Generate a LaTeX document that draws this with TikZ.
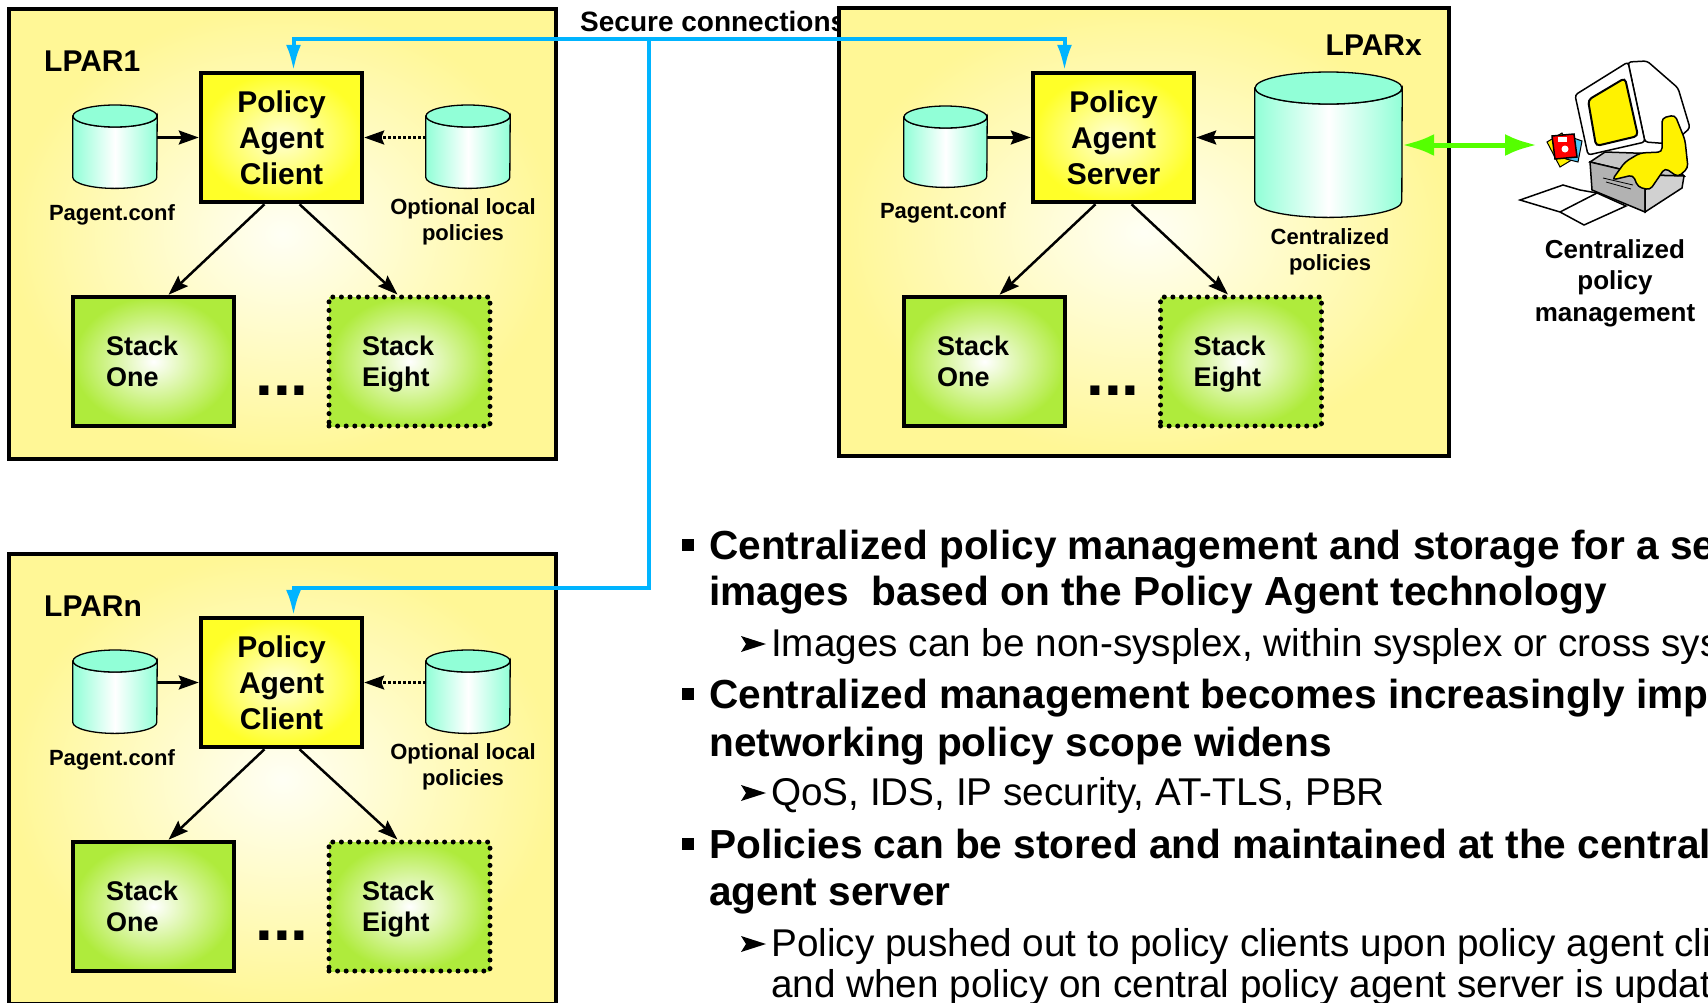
\documentclass[tikz,border=0pt]{standalone}
\usepackage{fontspec}
\setmainfont{Liberation Sans}
\usetikzlibrary{arrows.meta}

\definecolor{lparyellow}{RGB}{255,247,150}
\definecolor{agentyellow}{RGB}{255,255,40}
\definecolor{stackgreen}{RGB}{175,235,60}
\definecolor{mint}{RGB}{145,255,215}
\definecolor{secblue}{RGB}{0,180,255}
\definecolor{mgmtgreen}{RGB}{85,255,0}

% disk store: name, centre x, top y, width, height, half height of the lid
\newcommand{\dbdisk}[6]{%
  \pgfmathsetmacro\dbrx{#4/2}%
  \node[inner sep=0pt, minimum width=#4pt, minimum height=#5pt, anchor=north] (#1) at (#2,#3) {};
  \shadedraw[left color=mint, right color=mint, middle color=white, line width=1.3pt]
    ([yshift=-#6pt]#1.north west) -- ([yshift=#6pt]#1.south west)
    arc[start angle=180, end angle=360, x radius=\dbrx pt, y radius=#6pt]
    -- ([yshift=-#6pt]#1.north east)
    arc[start angle=0, end angle=-180, x radius=\dbrx pt, y radius=#6pt] -- cycle;
  \filldraw[fill=mint, line width=1.3pt] ([yshift=-#6pt]#1.north) ellipse[x radius=\dbrx pt, y radius=#6pt];
}

\begin{document}
\begin{tikzpicture}[x=1pt, y=-1pt,
  lpar/.style={line width=4pt, inner color=yellow!4, outer color=lparyellow},
  lparname/.style={inner sep=0pt, font=\bfseries\fontsize{30}{36}\selectfont},
  agent/.style={draw, line width=4.5pt, inner color=yellow!15, outer color=agentyellow,
    minimum width=161pt, minimum height=129pt, align=center, font=\bfseries\fontsize{30}{36}\selectfont},
  stack/.style={draw, line width=4.5pt, inner color=white, outer color=stackgreen,
    minimum height=129pt, text width=95pt, inner xsep=33pt, align=left, font=\bfseries\fontsize{27}{31}\selectfont},
  optstack/.style={stack, line width=5pt, dash pattern=on 0pt off 8.6pt, line cap=round},
  lbl/.style={align=center, font=\bfseries\fontsize{22}{26}\selectfont},
  more/.style={anchor=base, inner sep=0pt, font=\bfseries\fontsize{64}{64}\selectfont},
  flow/.style={line width=2.5pt, -{Stealth[length=20pt, width=14pt, inset=3pt]}},
  optflow/.style={flow, dash pattern=on 2.5pt off 2.5pt},
  secure/.style={draw=secblue, line width=4pt, -{Latex[length=26pt, width=15pt]}},
  mgmt/.style={draw=mgmtgreen, line width=5pt, {Latex[length=32pt, width=22pt]}-{Latex[length=32pt, width=22pt]}},
  head/.style={anchor=base west, inner sep=0pt, font=\bfseries\fontsize{40.6}{47}\selectfont},
  sub/.style={anchor=base west, inner sep=0pt, font=\fontsize{38.7}{42}\selectfont}]

\useasboundingbox (0,0) rectangle (1708,1002);
\clip (0,0) rectangle (1708,1002);

\foreach \n/\dy in {1/0, n/545} {
  \begin{scope}[shift={(0,\dy)}]
    \shadedraw[lpar] (9,9) rectangle (556,459);
    \node[lparname, anchor=base west] (lpar\n) at (44,71) {LPAR\n};
    \node[agent] (pac\n) at (281.5,137.5) {Policy\\Agent\\Client};
    \dbdisk{conf\n}{115}{105}{84}{83}{11}
    \dbdisk{opt\n}{468}{105}{84}{83}{11}
    \node[lbl] (confname\n) at (112,215) {Pagent.conf};
    \node[lbl] (optname\n) at (463,222) {Optional local\\policies};
    \node[stack] (one\n) at (153.5,361.5) {Stack\\One};
    \node[optstack] (eight\n) at (409.5,361.5) {Stack\\\smash{Eight}};
    \node[more] (more\n) at (282,395) {...};
    \draw[flow] (conf\n.east |- pac\n.west) -- (pac\n.west);
    \draw[optflow] (opt\n.west |- pac\n.east) -- (pac\n.east);
    \draw[flow] ([xshift=-17pt]pac\n.south) -- ([xshift=15pt]one\n.north);
    \draw[flow] ([xshift=18pt]pac\n.south) -- ([xshift=-12pt]eight\n.north);
  \end{scope}
}

\node[anchor=base west, inner sep=0pt, font=\bfseries\fontsize{28}{32}\selectfont] (seclbl) at (580,31) {Secure connections};

\shadedraw[lpar] (839,8) rectangle (1449,456);
\node[lparname, anchor=base east] (lparx) at (1422,55) {LPARx};
\node[agent] (pas) at (1113.5,137.5) {Policy\\Agent\\Server};
\dbdisk{confx}{945.5}{106}{83}{81}{11}
\dbdisk{central}{1328.5}{72}{147}{145}{16}
\node[lbl] (confnamex) at (943,213) {Pagent.conf};
\node[lbl] (centralname) at (1330,251.5) {Centralized\\policies};
\node[stack] (onex) at (984.5,361.5) {Stack\\One};
\node[optstack] (eightx) at (1241,361.5) {Stack\\\smash{Eight}};
\node[more] (morex) at (1113,395) {...};
\draw[flow] (confx.east |- pas.west) -- (pas.west);
\draw[flow] (central.west |- pas.east) -- (pas.east);
\draw[flow] ([xshift=-18pt]pas.south) -- ([xshift=15pt]onex.north);
\draw[flow] ([xshift=18pt]pas.south) -- ([xshift=-13pt]eightx.north);

\coordinate (hub) at (649,39);
\coordinate (drop) at (649,588);
\draw[secure] (hub) -| ([xshift=12pt]pac1.north);
\draw[secure] (hub) -| ([xshift=-49pt]pas.north);
\draw[secure] (hub) -- (drop) -| ([xshift=12pt]pacn.north);

\coordinate (desk) at (1537,145);
\draw[mgmt] (central.east |- desk) -- (desk);

% workstation
\filldraw[fill=white, line width=1.5pt, rounded corners=3pt] (1628,62) -- (1647,61) -- (1678,88) -- (1690,128) -- (1672,144) -- (1645,142) -- cycle;
\filldraw[fill=white, line width=1.5pt, rounded corners=3pt] (1575,95) -- (1628,62) -- (1645,142) -- (1588,155) -- cycle;
\filldraw[fill=yellow, line width=2pt, rounded corners=4pt] (1588,100) -- (1625,78) -- (1638,136) -- (1596,146) -- cycle;
\filldraw[fill=black!22, line width=1.5pt] (1590,162) -- (1605,152) -- (1662,154) -- (1684,176) -- (1645,175) -- cycle;
\filldraw[fill=black!30, line width=1.5pt] (1590,162) -- (1645,175) -- (1645,212) -- (1592,190) -- cycle;
\filldraw[fill=black!18, line width=1.5pt] (1645,175) -- (1684,176) -- (1682,188) -- (1645,212) -- cycle;
\draw[line width=0.8pt] (1603,178) -- (1633,185) (1606,182) -- (1631,189);
\filldraw[fill=yellow, line width=1.5pt, rounded corners=4pt] (1662,118) -- (1675,115) -- (1685,140) -- (1688,168) -- (1678,177) -- (1665,168) -- (1650,190) -- (1638,187) -- (1633,175) -- (1612,180) -- (1625,162) -- (1640,153) -- (1662,152) -- cycle;
\filldraw[fill=yellow, line width=1pt] (1547,142) -- (1562,133) -- (1575,158) -- (1560,167) -- cycle;
\filldraw[fill=cyan!70, line width=1pt] (1568,136) -- (1582,141) -- (1578,162) -- (1566,159) -- cycle;
\filldraw[fill=red, line width=1.5pt] (1552,136) -- (1574,134) -- (1577,157) -- (1555,159) -- cycle;
\fill[white] (1565,149) circle (3.5pt);
\fill[white] (1558,137) rectangle (1567,142);
\filldraw[fill=white, line width=1.5pt] (1520,200) -- (1563,185) -- (1580,190) -- (1597,193) -- (1626,206) -- (1584,225) -- (1560,212) -- cycle;
\draw[line width=1.5pt] (1560,212) -- (1597,193);
\node[align=center, font=\bfseries\fontsize{26}{31.5}\selectfont] (mgmtlbl) at (1615,283) {Centralized\\policy\\management};

% bullets
\foreach \y in {545,694,844} \fill (682,\y-6) rectangle (694,\y+6);
\foreach \y in {644,793,944} \fill (741,\y-8) -- (766,\y) -- (741,\y+8) -- (746,\y) -- cycle;

\node[head] (l1a) at (709,559) {Centralized policy management and storage for a se};
\node[head] (l1b) at (709,605) {images~ based on the Policy Agent technology};
\node[sub] (l1c) at (771,656) {Images can be non-sysplex, within sysplex or cross sys};
\node[head] (l2a) at (709,708) {Centralized management becomes increasingly imp};
\node[head] (l2b) at (709,756) {networking policy scope widens};
\node[sub] (l2c) at (771,805) {QoS, IDS, IP security, AT-TLS, PBR};
\node[head] (l3a) at (709,858) {Policies can be stored and maintained at the central};
\node[head] (l3b) at (709,905) {agent server};
\node[sub] (l3c) at (771,956) {Policy pushed out to policy clients upon policy agent clie};
\node[sub] (l3d) at (771,997) {and when policy on central policy agent server is update};

\end{tikzpicture}
\end{document}
